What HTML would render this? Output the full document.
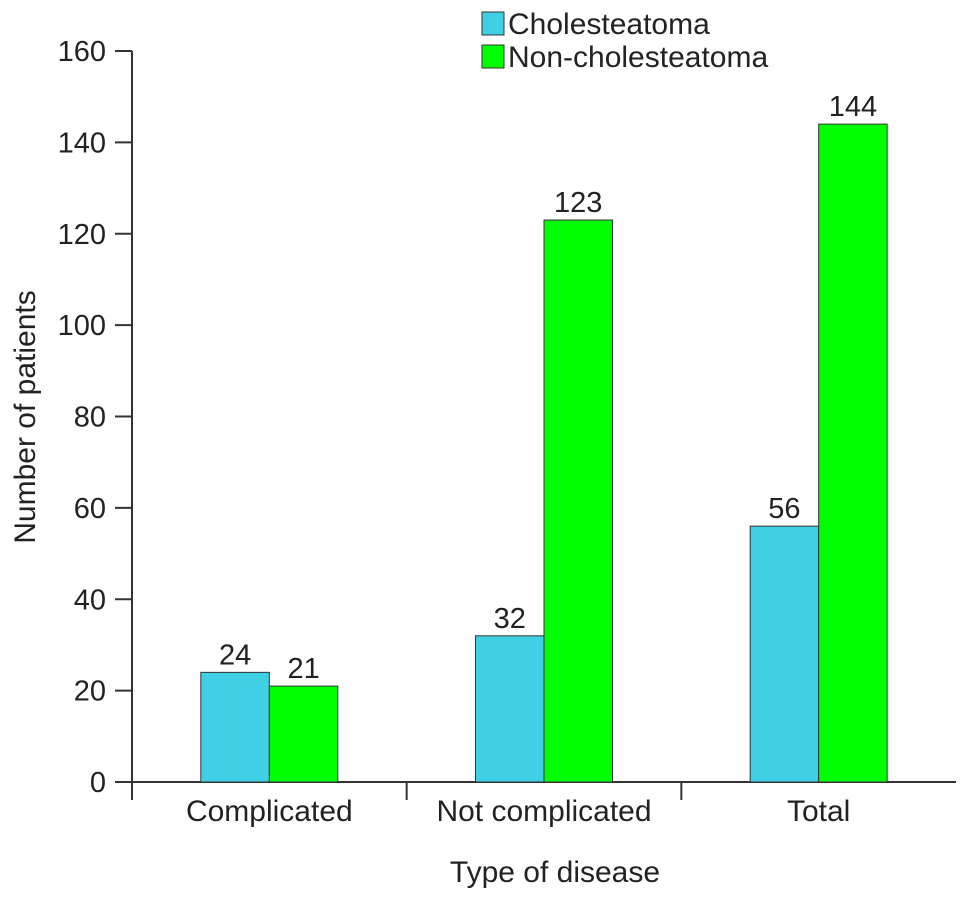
<!DOCTYPE html>
<html><head><meta charset="utf-8"><style>
body{margin:0;background:#fff;}
svg text{font-family:"Liberation Sans",Arial,sans-serif;fill:#222;}
</style></head><body>
<svg id="chart" width="969" height="900" xmlns="http://www.w3.org/2000/svg">
<g id="axes"></g><g id="bars"></g>
<g>
<rect x="482" y="12" width="22" height="23" fill="#40d0e6" stroke="#333" stroke-width="1"/>
<text x="508" y="34" font-size="30">Cholesteatoma</text>
<rect x="482" y="45" width="22" height="23" fill="#00ff00" stroke="#333" stroke-width="1"/>
<text x="508" y="67" font-size="30">Non-cholesteatoma</text>
</g>
<text transform="translate(35,417) rotate(-90)" text-anchor="middle" font-size="30">Number of patients</text>
<text x="555" y="882" text-anchor="middle" font-size="30">Type of disease</text>
</svg>
<script>
const categories = ["Complicated", "Not complicated", "Total"];
const cholesteatoma = [24, 32, 56];
const nonCholesteatoma = [21, 123, 144];
const yTicks = [0, 20, 40, 60, 80, 100, 120, 140, 160];

const NS = "http://www.w3.org/2000/svg";
const x0 = 132, x1 = 956, yBase = 782, yTop = 51, yMax = 160;
const catW = (x1 - x0) / 3, barW = 68.5;
function y(v){ return yBase - v / yMax * (yBase - yTop); }
function cx(i){ return x0 + catW * (i + 0.5); }
function mk(tag, attrs, parent){ const e = document.createElementNS(NS, tag); for (const k in attrs) e.setAttribute(k, attrs[k]); parent.appendChild(e); return e; }
const axes = document.getElementById('axes'), bars = document.getElementById('bars');
const st = {stroke:"#333","stroke-width":2};
let yl = mk('line', Object.assign({x1:x0,y1:yTop,x2:x0,y2:800}, st), axes);


let xl = mk('line', Object.assign({x1:115,y1:yBase,x2:x1,y2:yBase}, st), axes);


yTicks.forEach(t => {
  const ln = mk('line', Object.assign({x1:115,y1:y(t),x2:x0,y2:y(t)}, st), axes);
  
  
  const tx = mk('text', {x:106, y:y(t)+10, "text-anchor":"end", "font-size":29}, axes);
  tx.textContent = t;
  
  
});
for (let i = 1; i < 3; i++) {
  const ln = mk('line', Object.assign({x1:x0+catW*i,y1:yBase,x2:x0+catW*i,y2:800}, st), axes);
  
  
}
categories.forEach((c, i) => {
  const tx = mk('text', {x:cx(i), y:821, "text-anchor":"middle", "font-size":30}, axes);
  tx.textContent = c;
  
  
  [[cholesteatoma[i], "#40d0e6", -barW, 'bar-cholesteatoma'], [nonCholesteatoma[i], "#00ff00", 0, 'bar-non-cholesteatoma']].forEach(([v, col, off, nm]) => {
    const r = mk('rect', {x:cx(i)+off, y:y(v), width:barW, height:yBase-y(v), fill:col, stroke:"#333", "stroke-width":1}, bars);
    
    
    const lb = mk('text', {x:cx(i)+off+barW/2, y:y(v)-8, "text-anchor":"middle", "font-size":29}, bars);
    lb.textContent = v;
    
    
  });
});
</script>
</body></html>
